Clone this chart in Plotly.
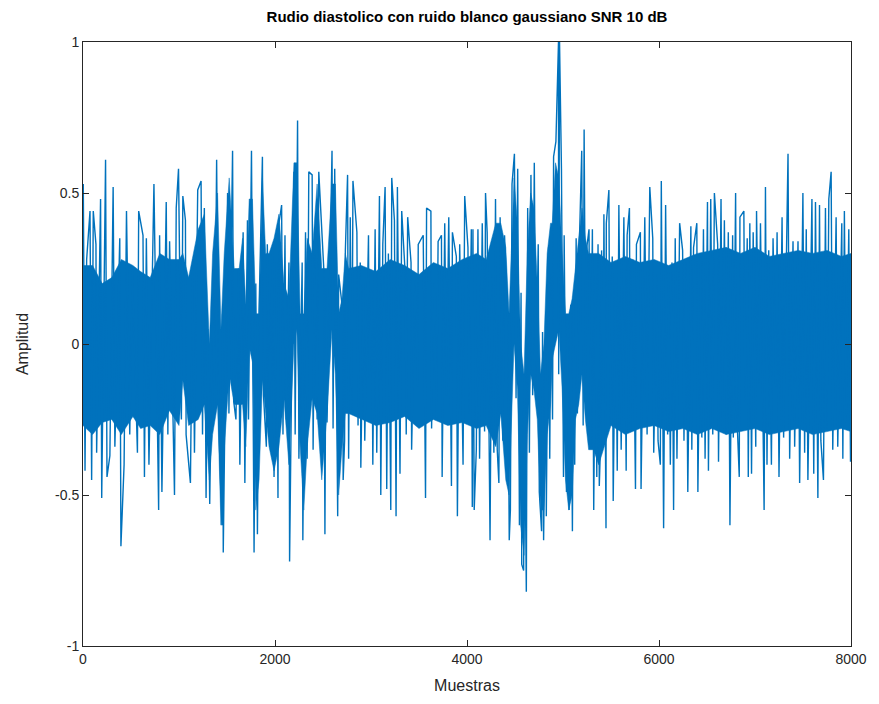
import plotly.graph_objects as go

# Upper spike peaks (sample index, amplitude)
up_idx = [3, 38, 73, 107, 135, 183, 235, 314, 383, 453, 515, 580, 625, 660, 739, 798, 867, 902, 971, 995,
          1040, 1067, 1143, 1195, 1230, 1264, 1300, 1351, 1392, 1454, 1506, 1558, 1620, 1668, 1713, 1755, 1800,
          1834, 1869, 1920, 1972, 2017, 2041, 2069, 2104, 2145, 2197, 2235, 2283, 2318, 2352, 2387, 2415, 2456,
          2508, 2532, 2594, 2622, 2663, 2705, 2733, 2756, 2784, 2812, 2853, 2888, 2922, 2974, 3008, 3043, 3088,
          3123, 3147, 3181, 3216, 3244, 3275, 3320, 3355, 3382, 3417, 3458, 3492, 3544, 3579, 3624, 3658, 3699,
          3734, 3768, 3810, 3848, 3889, 3924, 3976, 4010, 4045, 4062, 4114, 4159, 4193, 4210, 4259, 4297, 4345,
          4391, 4425, 4469, 4494, 4528, 4563, 4597, 4632, 4666, 4701, 4742, 4787, 4822, 4850, 4874, 4902, 4926,
          4943, 4953, 4964, 4984, 5012, 5047, 5081, 5109, 5137, 5168, 5195, 5220, 5244, 5271, 5306, 5340, 5365,
          5402, 5426, 5451, 5478, 5513, 5548, 5582, 5634, 5668, 5692, 5727, 5765, 5806, 5852, 5904, 5935, 5979,
          6024, 6069, 6101, 6135, 6169, 6215, 6246, 6283, 6332, 6360, 6394, 6435, 6463, 6505, 6539, 6577, 6611,
          6646, 6681, 6722, 6767, 6798, 6843, 6884, 6919, 6946, 6981, 7016, 7057, 7109, 7143, 7188, 7230, 7282,
          7319, 7344, 7396, 7448, 7499, 7534, 7593, 7630, 7672, 7734, 7769, 7793, 7845, 7904, 7931, 7977]
up_val = [0.53, 0.28, 0.44, 0.44, 0.33, 0.48, 0.61, 0.52, 0.35, 0.44, 0.24, 0.44, 0.36, 0.35, 0.53, 0.36, 0.47, 0.34, 0.45, 0.58,
          0.49, 0.41, 0.28, 0.51, 0.54, 0.45, 0.05, 0.20, 0.61, 0.10, 0.50, 0.64, 0.25, 0.37, 0.41, 0.64, 0.20,
          0.11, 0.62, 0.33, 0.32, 0.27, 0.40, 0.46, 0.36, 0.27, 0.57, 0.74, 0.27, 0.37, 0.57, 0.56, 0.30, 0.57,
          0.25, 0.20, 0.64, 0.58, 0.23, 0.11, 0.31, 0.56, 0.42, 0.54, 0.37, 0.27, 0.20, 0.36, 0.18, 0.38, 0.49,
          0.33, 0.52, 0.30, 0.55, 0.41, 0.52, 0.44, 0.24, 0.42, 0.27, 0.21, 0.33, 0.36, 0.45, 0.44, 0.20, 0.34,
          0.36, 0.40, 0.42, 0.37, 0.29, 0.33, 0.49, 0.32, 0.38, 0.38, 0.38, 0.40, 0.50, 0.37, 0.23, 0.48, 0.42,
          0.36, 0.08, 0.53, 0.63, 0.58, 0.17, -0.10, 0.45, 0.56, 0.60, 0.33, 0.04, 0.00, 0.32, 0.23, 0.62, 0.67,
          0.90, 1.00, 1.00, 0.58, 0.36, 0.08, 0.13, 0.16, 0.35, 0.30, 0.64, 0.71, 0.31, 0.38, 0.38, 0.23, 0.33,
          0.31, 0.43, 0.40, 0.51, 0.29, 0.20, 0.46, 0.42, 0.36, 0.45, 0.28, 0.33, 0.37, 0.42, 0.52, 0.35, 0.23,
          0.54, 0.46, 0.24, 0.27, 0.35, 0.40, 0.31, 0.27, 0.39, 0.32, 0.40, 0.29, 0.38, 0.47, 0.48, 0.50, 0.33,
          0.48, 0.41, 0.37, 0.36, 0.50, 0.42, 0.44, 0.35, 0.40, 0.37, 0.44, 0.40, 0.52, 0.31, 0.35, 0.37, 0.42,
          0.17, 0.63, 0.34, 0.34, 0.50, 0.38, 0.48, 0.47, 0.46, 0.45, 0.48, 0.57, 0.42, 0.40, 0.44, 0.38]

# Lower spike peaks (sample index, amplitude)
lo_idx = [21, 90, 142, 195, 250, 280, 332, 395, 428, 487, 567, 640, 687, 788, 822, 884, 953, 1025, 1074, 1119,
          1161, 1245, 1282, 1320, 1368, 1413, 1447, 1461, 1520, 1570, 1593, 1634, 1686, 1724, 1782, 1817, 1880,
          1910, 1948, 1990, 2031, 2083, 2117, 2152, 2210, 2249, 2290, 2335, 2397, 2439, 2520, 2542, 2605, 2653,
          2710, 2725, 2767, 2801, 2865, 2894, 2935, 2981, 3019, 3060, 3102, 3164, 3206, 3261, 3302, 3367, 3423,
          3486, 3568, 3631, 3683, 3741, 3786, 3838, 3900, 3959, 4020, 4055, 4075, 4097, 4131, 4183, 4240, 4280,
          4315, 4332, 4373, 4440, 4452, 4511, 4546, 4570, 4590, 4618, 4650, 4684, 4718, 4753, 4777, 4798, 4826,
          4862, 4891, 4955, 5005, 5036, 5064, 5098, 5122, 5150, 5210, 5236, 5285, 5320, 5352, 5378, 5392, 5420,
          5448, 5490, 5523, 5565, 5606, 5658, 5703, 5755, 5813, 5876, 5945, 5990, 6014, 6048, 6090, 6118, 6152,
          6187, 6260, 6300, 6342, 6405, 6446, 6480, 6515, 6560, 6620, 6662, 6700, 6739, 6774, 6808, 6836, 6895,
          6930, 6964, 7008, 7040, 7095, 7125, 7171, 7216, 7250, 7298, 7361, 7413, 7465, 7517, 7551, 7612, 7655,
          7686, 7713, 7750, 7810, 7862, 7915, 7950, 7995]
lo_val = [-0.42, -0.45, -0.36, -0.51, -0.44, -0.37, -0.34, -0.67, -0.40, -0.30, -0.36, -0.44, -0.40, -0.55, -0.49, -0.30, -0.50, -0.25, -0.30, -0.46,
          -0.36, -0.30, -0.51, -0.53, -0.23, -0.25, -0.60, -0.69, -0.23, -0.19, -0.25, -0.40, -0.46, -0.25, -0.69, -0.63, -0.17,
          -0.34, -0.19, -0.44, -0.51, -0.30, -0.25, -0.72, -0.30, -0.38, -0.65, -0.38, -0.35, -0.25, -0.63, -0.26, -0.28, -0.57,
          -0.45, -0.32, -0.38, -0.22, -0.27, -0.41, -0.32, -0.11, -0.40, -0.36, -0.50, -0.48, -0.55, -0.57, -0.43, -0.30, -0.35,
          -0.14, -0.51, -0.28, -0.25, -0.44, -0.17, -0.47, -0.57, -0.40, -0.23, -0.54, -0.55, -0.35, -0.38, -0.29, -0.65, -0.36,
          -0.35, -0.46, -0.32, -0.65, -0.55, -0.18, -0.60, -0.73, -0.75, -0.82, -0.36, -0.17, -0.14, -0.49, -0.62, -0.65, -0.57,
          -0.38, -0.25, -0.10, -0.44, -0.49, -0.55, -0.62, -0.40, -0.23, -0.27, -0.11, -0.34, -0.55, -0.44, -0.47, -0.32, -0.17,
          -0.61, -0.27, -0.52, -0.42, -0.35, -0.42, -0.28, -0.48, -0.48, -0.30, -0.36, -0.32, -0.40, -0.61, -0.30, -0.40, -0.55,
          -0.38, -0.32, -0.49, -0.35, -0.49, -0.31, -0.38, -0.42, -0.30, -0.39, -0.28, -0.30, -0.60, -0.31, -0.21, -0.44, -0.19,
          -0.44, -0.43, -0.34, -0.13, -0.55, -0.40, -0.40, -0.14, -0.44, -0.31, -0.38, -0.34, -0.46, -0.36, -0.45, -0.43, -0.51,
          -0.32, -0.45, -0.28, -0.35, -0.34, -0.38, -0.26, -0.39]

# Dense inner band of the signal (sample index, upper edge, lower edge)
core_idx = [0, 100, 200, 300, 400, 520, 600, 700, 800, 900, 1000, 1040, 1100, 1200, 1264,
            1316, 1350, 1402, 1437, 1471, 1523, 1575, 1627, 1662, 1696, 1731, 1765, 1800, 1834, 1869,
            1903, 1938, 1990, 2041, 2093, 2145, 2197, 2228, 2262, 2300, 2335, 2387, 2439, 2487, 2542,
            2594, 2629, 2663, 2698, 2732, 2767, 2900, 3050, 3200, 3350, 3500, 3650, 3800, 3950, 4100,
            4200, 4300, 4352, 4404, 4438, 4490, 4525, 4559, 4594, 4628, 4663, 4697, 4732, 4766, 4801,
            4835, 4870, 4888, 4922, 4957, 4991, 5026, 5060, 5095, 5129, 5164, 5198, 5233, 5267, 5319,
            5371, 5500, 5650, 5800, 5950, 6100, 6250, 6400, 6550, 6700, 6850, 7000, 7150, 7300, 7450,
            7600, 7750, 7900, 8000]
core_hi = [0.26, 0.26, 0.20, 0.22, 0.28, 0.26, 0.24, 0.22, 0.30, 0.28, 0.28, 0.30, 0.22, 0.38, 0.43,
           0.00, 0.30, 0.50, 0.05, 0.30, 0.55, 0.25, 0.25, 0.35, 0.13, 0.48, 0.48, 0.10, 0.10, 0.55,
           0.30, 0.30, 0.35, 0.43, 0.20, 0.15, 0.60, 0.60, 0.10, 0.10, 0.35, 0.30, 0.53, 0.25, 0.25,
           0.53, 0.53, 0.10, 0.15, 0.30, 0.25, 0.26, 0.24, 0.28, 0.26, 0.23, 0.27, 0.25, 0.28, 0.30,
           0.28, 0.40, 0.40, 0.32, 0.10, 0.55, 0.40, 0.00, -0.10, 0.30, 0.50, 0.45, 0.20, -0.10, 0.00,
           0.30, 0.40, 0.40, 0.60, 0.55, 0.30, 0.10, 0.10, 0.15, 0.25, 0.35, 0.45, 0.35, 0.30, 0.30,
           0.30, 0.27, 0.29, 0.27, 0.28, 0.26, 0.28, 0.30, 0.31, 0.32, 0.30, 0.32, 0.29, 0.30, 0.31,
           0.30, 0.31, 0.29, 0.30]
core_lo = [-0.27, -0.30, -0.26, -0.25, -0.30, -0.24, -0.28, -0.27, -0.30, -0.22, -0.27, -0.12, -0.27, -0.25, -0.20,
           -0.45, -0.30, -0.20, -0.60, -0.35, -0.10, -0.20, -0.20, -0.20, -0.34, -0.01, -0.06, -0.55, -0.45, -0.12,
           -0.23, -0.34, -0.42, -0.34, -0.18, -0.40, 0.00, 0.05, -0.34, -0.55, -0.34, -0.18, -0.23, -0.45, -0.23,
           0.05, -0.10, -0.50, -0.34, -0.23, -0.23, -0.25, -0.27, -0.26, -0.24, -0.28, -0.25, -0.27, -0.26, -0.28,
           -0.27, -0.34, -0.23, -0.45, -0.50, 0.00, -0.15, -0.60, -0.70, -0.30, -0.10, -0.15, -0.25, -0.55, -0.55,
           -0.30, -0.20, -0.05, 0.00, 0.05, -0.15, -0.45, -0.55, -0.50, -0.25, -0.20, -0.10, -0.25, -0.35, -0.35,
           -0.40, -0.27, -0.30, -0.28, -0.27, -0.29, -0.28, -0.30, -0.28, -0.30, -0.29, -0.28, -0.30, -0.29, -0.28,
           -0.30, -0.29, -0.28, -0.29]

x_ticks = [0, 2000, 4000, 6000, 8000]
y_ticks = [-1, -0.5, 0, 0.5, 1]
y_tick_text = ["-1", "-0.5", "0", "0.5", "1"]

BLUE = "#0072BD"
FONT = "Liberation Sans, Arial, sans-serif"

pts = sorted(list(zip(up_idx, up_val)) + list(zip(lo_idx, lo_val)), key=lambda p: p[0])
sx = [p[0] for p in pts]
sy = [p[1] for p in pts]

fig = go.Figure()
fig.add_trace(go.Scatter(x=core_idx, y=core_lo, mode="lines", line=dict(width=0.5, color=BLUE),
                         hoverinfo="skip", showlegend=False))
fig.add_trace(go.Scatter(x=core_idx, y=core_hi, mode="lines", line=dict(width=0.5, color=BLUE),
                         fill="tonexty", fillcolor=BLUE, hoverinfo="skip", showlegend=False))
fig.add_trace(go.Scatter(x=sx, y=sy, mode="lines", line=dict(width=1.4, color=BLUE), showlegend=False))

axis_common = dict(showgrid=False, zeroline=False, showline=True, linecolor="#262626", linewidth=1,
                   mirror="ticks", ticks="inside", ticklen=6, tickcolor="#262626", tickwidth=1,
                   tickfont=dict(family=FONT, size=14, color="#262626"))

fig.update_layout(
    width=879, height=704,
    margin=dict(l=83, r=24, t=42, b=53),
    paper_bgcolor="white", plot_bgcolor="white",
    title=dict(text="<b>Rudio diastolico con ruido blanco gaussiano SNR 10 dB</b>",
               x=0.5, xref="paper", xanchor="center", y=0.976, yanchor="middle",
               font=dict(family=FONT, size=15, color="black")),
    xaxis=dict(range=[0, 8000], tickvals=x_ticks, ticktext=[str(v) for v in x_ticks],
               title=dict(text="Muestras", standoff=14, font=dict(family=FONT, size=16, color="#262626")),
               **axis_common),
    yaxis=dict(range=[-1, 1], tickvals=y_ticks, ticktext=y_tick_text,
               title=dict(text="Amplitud", standoff=22, font=dict(family=FONT, size=16, color="#262626")),
               **axis_common),
)

fig.write_html("out.html")
